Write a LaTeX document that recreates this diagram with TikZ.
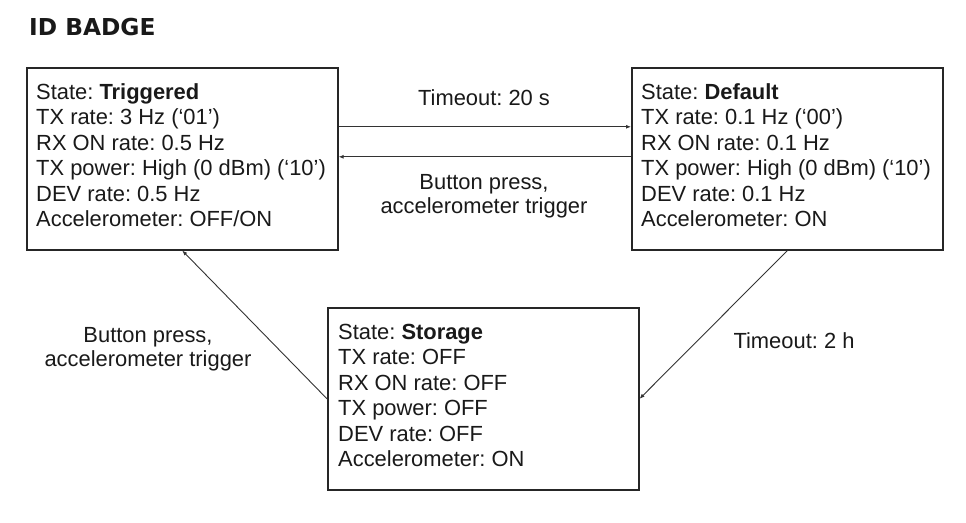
\documentclass[tikz,border=0pt]{standalone}
\usepackage{fontspec}
\setmainfont{Liberation Sans}
\newfontfamily\titlefont{DejaVu Sans}
\usetikzlibrary{arrows.meta,positioning}

\tikzset{
  state/.style={draw=black!85, line width=1.6pt, minimum width=311pt,
    minimum height=182pt, anchor=north west, inner sep=0pt},
  statetext/.style={anchor=north west, inner sep=0pt, align=left,
    text=black!90, font=\fontsize{21.9}{25.5}\selectfont\frenchspacing},
  trans/.style={draw=black!80, line width=0.9pt,
    -{Latex[length=5pt,width=4pt]}},
  lbl/.style={inner sep=0pt, align=center, text=black!90,
    font=\fontsize{21.9}{23.5}\selectfont\frenchspacing},
}

\begin{document}
\begin{tikzpicture}[x=1pt,y=-1pt]
        \useasboundingbox (0,0) rectangle (966,522);
        % title
        \node[anchor=base west, inner sep=0pt, text=black!90,
          font=\titlefont\bfseries\fontsize{23.3}{27}\selectfont] (title) at (29,35) {ID BADGE};
        % states
        \node[state] (trig) at (26,67) {};
        \node[state] (def) at (631,67) {};
        \node[state] (stor) at (327,307) {};
        \node[statetext] (trigtxt) at ([xshift=10pt,yshift=-14pt]trig.north west)
          {\strut State: \textbf{Triggered}\\TX rate: 3 Hz (‘01’)\\RX ON rate: 0.5 Hz\\
           TX power: High (0 dBm) (‘10’)\\DEV rate: 0.5 Hz\\Accelerometer: OFF/ON};
        \node[statetext] (deftxt) at ([xshift=10pt,yshift=-14pt]def.north west)
          {\strut State: \textbf{Default}\\TX rate: 0.1 Hz (‘00’)\\RX ON rate: 0.1 Hz\\
           TX power: High (0 dBm) (‘10’)\\DEV rate: 0.1 Hz\\Accelerometer: ON};
        \node[statetext] (stortxt) at ([xshift=11pt,yshift=-14pt]stor.north west)
          {\strut State: \textbf{Storage}\\TX rate: OFF\\RX ON rate: OFF\\
           TX power: OFF\\DEV rate: OFF\\Accelerometer: ON};
        % transitions
        \draw[trans] ([yshift=32pt]trig.east) -- ([yshift=32pt]def.west);
        \draw[trans] ([yshift=2pt]def.west) -- ([yshift=2pt]trig.east);
        \draw[trans] (def.south) -- (stor.east);
        \draw[trans] (stor.west) -- (trig.south);
        % labels
        \node[lbl, anchor=base] (to20) at (484,105) {Timeout: 20 s};
        \node[lbl] (btntop) at (484,196) {Button press,\\accelerometer trigger};
        \node[lbl, anchor=base] (to2h) at (794,348) {Timeout: 2 h};
        \node[lbl] (btnleft) at (148,349) {Button press,\\accelerometer trigger};
\end{tikzpicture}
\end{document}
